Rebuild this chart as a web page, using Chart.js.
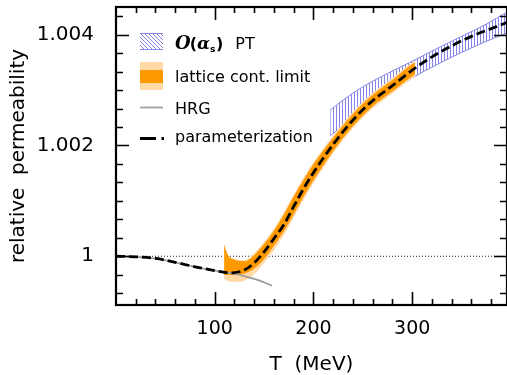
<!DOCTYPE html>
<html lang="en">
<head>
    <meta charset="UTF-8">
    <title>Relative permeability</title>
    <script src="https://cdn.jsdelivr.net/npm/chart.js"></script>
    <style>
        body { margin: 0; background: #fff; }
        #chartBox { width: 507px; height: 375px; }
    </style>
</head>
<body>
    <div id="chartBox">
        <canvas id="permChart" width="507" height="375"></canvas>
    </div>

    <script>
        // values (T in MeV)
        const tempParam = [0, 20, 40, 60, 80, 100, 110, 118, 125, 130, 140, 150, 160, 170, 180, 190, 200, 220, 240, 260, 280, 300, 320, 340, 360, 380, 396];
        const muParam = [1.0, 0.99999, 0.99996, 0.99989, 0.99981, 0.99974, 0.99971, 0.99970, 0.99972, 0.99975, 0.99988, 1.00008, 1.00032, 1.00057, 1.00090, 1.00122, 1.00151, 1.00202, 1.00246, 1.00281, 1.00308, 1.00336, 1.00360, 1.00380, 1.00397, 1.00411, 1.00422];

        const tempHrg = [0, 20, 40, 60, 80, 100, 110, 118, 130, 140, 150, 158];
        const muHrg = [1.0, 0.99999, 0.99996, 0.99989, 0.99981, 0.99974, 0.99971, 0.99969, 0.99964, 0.99959, 0.99953, 0.99947];

        const tempLat = [109.5, 113, 120, 130, 140, 150, 160, 170, 180, 190, 200, 220, 240, 260, 280, 300, 303];
        const latDarkHi = [1.00021, 1.00003, 0.99994, 0.99991, 1.00002, 1.00022, 1.00046, 1.00075, 1.00108, 1.00138, 1.00166, 1.00214, 1.00257, 1.00291, 1.00318, 1.00347, 1.00350];
        const latDarkLo = [0.99966, 0.99966, 0.99966, 0.99969, 0.99978, 0.99995, 1.00019, 1.00045, 1.00076, 1.00108, 1.00137, 1.00190, 1.00235, 1.00271, 1.00298, 1.00325, 1.00328];
        const latLightHi = [1.00021, 1.00004, 0.99995, 0.99993, 1.00005, 1.00026, 1.00050, 1.00080, 1.00112, 1.00142, 1.00170, 1.00218, 1.00261, 1.00295, 1.00322, 1.00350, 1.00353];
        const latLightLo = [0.99960, 0.99955, 0.99954, 0.99956, 0.99968, 0.99988, 1.00011, 1.00038, 1.00070, 1.00102, 1.00132, 1.00186, 1.00231, 1.00267, 1.00294, 1.00321, 1.00324];

        const tempPT = [217, 230, 250, 275, 300, 325, 350, 375, 396];
        const ptHi = [1.00264, 1.00282, 1.00306, 1.00330, 1.00352, 1.00375, 1.00397, 1.00419, 1.00441];
        const ptLo = [1.00218, 1.00235, 1.00262, 1.00293, 1.00322, 1.00346, 1.00368, 1.00388, 1.00403];

        const xTickValues = [100, 200, 300];
        const yTickValues = [1, 1.002, 1.004];
        const legendLabels = ['PT', 'lattice cont. limit', 'HRG', 'parameterization'];

        const hatchColor = '#8484ea';
        const orangeDark = '#ff9900';
        const orangeLight = '#ffd9a6';

        function pts(xs, ys) {
            return xs.map((x, i) => ({x: x, y: ys[i]}));
        }

        // vertical hatch for the PT band
        const hatchCanvas = document.createElement('canvas');
        hatchCanvas.width = 3;
        hatchCanvas.height = 4;
        const hctx = hatchCanvas.getContext('2d');
        hctx.fillStyle = hatchColor;
        hctx.fillRect(0, 0, 1, 4);
        const hatchPattern = hctx.createPattern(hatchCanvas, 'repeat');

        // frame with inward ticks on all four sides
        const framePlugin = {
            id: 'frame',
            afterDraw(chart) {
                const ctx = chart.ctx;
                const a = chart.chartArea;
                const xs = chart.scales.x, ys = chart.scales.y;
                ctx.save();
                ctx.strokeStyle = '#000';
                ctx.lineWidth = 1.6;
                for (let t = 20; t < xs.max; t += 20) {
                    const px = Math.round(xs.getPixelForValue(t)) + 0.5;
                    const len = t % 100 === 0 ? 13 : 6;
                    ctx.beginPath();
                    ctx.moveTo(px, a.bottom); ctx.lineTo(px, a.bottom - len);
                    ctx.moveTo(px, a.top); ctx.lineTo(px, a.top + len);
                    ctx.stroke();
                }
                const step = 0.002 / 6;
                for (let k = -3; k <= 14; k++) {
                    const v = 1 + k * step;
                    if (v < ys.min || v > ys.max) continue;
                    const py = Math.round(ys.getPixelForValue(v)) + 0.5;
                    const len = k % 6 === 0 ? 13 : 7;
                    ctx.beginPath();
                    ctx.moveTo(a.left, py); ctx.lineTo(a.left + len, py);
                    ctx.moveTo(a.right, py); ctx.lineTo(a.right - len, py);
                    ctx.stroke();
                }
                ctx.lineWidth = 2.2;
                ctx.strokeRect(a.left, a.top, a.right - a.left, a.bottom - a.top);
                ctx.restore();
            }
        };

        // legend drawn inside the plot, top left
        const legendPlugin = {
            id: 'insideLegend',
            afterDraw(chart) {
                const ctx = chart.ctx;
                const bx = 140, bw = 23, tx = 175;
                ctx.save();

                // hatched PT box
                ctx.save();
                ctx.beginPath();
                ctx.rect(bx, 33, bw, 17);
                ctx.clip();
                ctx.strokeStyle = hatchColor;
                ctx.lineWidth = 1;
                for (let d = -20; d < bw + 20; d += 4) {
                    ctx.beginPath();
                    ctx.moveTo(bx + d, 33);
                    ctx.lineTo(bx + d + 17, 50);
                    ctx.stroke();
                }
                ctx.restore();
                ctx.strokeStyle = hatchColor;
                ctx.lineWidth = 1;
                ctx.beginPath();
                ctx.moveTo(bx, 33.5); ctx.lineTo(bx + bw, 33.5);
                ctx.moveTo(bx, 49.5); ctx.lineTo(bx + bw, 49.5);
                ctx.stroke();

                ctx.fillStyle = '#000';
                ctx.textBaseline = 'alphabetic';
                let x = tx;
                ctx.font = 'italic bold 18px "DejaVu Serif"';
                ctx.fillText('O', x, 49);
                x += ctx.measureText('O').width - 1;
                ctx.font = 'bold 16px "DejaVu Sans"';
                ctx.fillText('(', x, 49);
                x += ctx.measureText('(').width;
                ctx.font = 'italic bold 17px "DejaVu Serif"';
                ctx.fillText('\u03b1', x, 49);
                x += ctx.measureText('\u03b1').width;
                ctx.font = 'bold 9px "DejaVu Sans"';
                ctx.fillText('s', x, 52);
                x += ctx.measureText('s').width + 0.5;
                ctx.font = 'bold 16px "DejaVu Sans"';
                ctx.fillText(')', x, 49);
                x += ctx.measureText(')').width + 12;
                ctx.font = '16px "DejaVu Sans"';
                ctx.fillText(legendLabels[0], x, 49);

                // lattice box
                ctx.fillStyle = orangeLight;
                ctx.fillRect(bx, 62, bw, 28);
                ctx.fillStyle = orangeDark;
                ctx.fillRect(bx, 70, bw, 13);
                ctx.fillStyle = '#000';
                ctx.fillText(legendLabels[1], tx, 81.5);

                // HRG
                ctx.strokeStyle = '#a0a0a0';
                ctx.lineWidth = 1.8;
                ctx.beginPath();
                ctx.moveTo(bx, 107.5); ctx.lineTo(bx + bw, 107.5);
                ctx.stroke();
                ctx.fillText(legendLabels[2], tx, 113.5);

                // parameterization
                ctx.strokeStyle = '#000';
                ctx.lineWidth = 2.8;
                ctx.beginPath();
                ctx.moveTo(bx, 138.5); ctx.lineTo(bx + 16, 138.5);
                ctx.moveTo(bx + 21.5, 138.5); ctx.lineTo(bx + 24, 138.5);
                ctx.stroke();
                ctx.fillText(legendLabels[3], tx, 142);
                ctx.restore();
            }
        };

        Chart.defaults.font.family = '"DejaVu Sans"';
        Chart.defaults.color = '#000';

        const ctx = document.getElementById('permChart').getContext('2d');
        const permChart = new Chart(ctx, {
            type: 'line',
            data: {
                datasets: [
                    { // 0: unity reference
                        data: pts([0, 396], [1, 1]),
                        borderColor: '#222', borderWidth: 1.1, borderDash: [1, 2],
                        fill: false, order: 6
                    },
                    { // 1: PT lower edge
                        data: pts(tempPT, ptLo),
                        borderColor: hatchColor, borderWidth: 1,
                        fill: false, order: 5
                    },
                    { // 2: PT upper edge, filled down to 1
                        data: pts(tempPT, ptHi),
                        borderColor: hatchColor, borderWidth: 1,
                        backgroundColor: hatchPattern,
                        fill: 1, order: 5
                    },
                    { // 3: lattice light lower
                        data: pts(tempLat, latLightLo),
                        borderColor: 'transparent', fill: false, order: 4
                    },
                    { // 4: lattice light upper
                        data: pts(tempLat, latLightHi),
                        borderColor: 'transparent', backgroundColor: orangeLight,
                        fill: 3, order: 4
                    },
                    { // 5: lattice dark lower
                        data: pts(tempLat, latDarkLo),
                        borderColor: 'transparent', fill: false, order: 3
                    },
                    { // 6: lattice dark upper
                        data: pts(tempLat, latDarkHi),
                        borderColor: 'transparent', backgroundColor: orangeDark,
                        fill: 5, order: 3
                    },
                    { // 7: HRG
                        data: pts(tempHrg, muHrg),
                        borderColor: '#9c9c9c', borderWidth: 1.8,
                        fill: false, order: 2
                    },
                    { // 8: parameterization
                        data: pts(tempParam, muParam),
                        borderColor: '#000', borderWidth: 2.8, borderDash: [9, 4],
                        fill: false, order: 1
                    }
                ]
            },
            options: {
                responsive: false,
                animation: false,
                devicePixelRatio: 1,
                layout: { padding: { top: 7, right: 0, left: 0, bottom: 0 } },
                elements: {
                    point: { radius: 0, hoverRadius: 0 },
                    line: { cubicInterpolationMode: 'monotone' }
                },
                plugins: {
                    legend: { display: false },
                    tooltip: { enabled: false }
                },
                scales: {
                    x: {
                        type: 'linear',
                        min: 0,
                        max: 396,
                        afterBuildTicks(scale) { scale.ticks = xTickValues.map(v => ({value: v})); },
                        afterFit(scale) {
                            scale.height = 70;
                            scale.paddingLeft = 0;
                            scale.paddingRight = 0;
                        },
                        grid: { display: false },
                        border: { display: false },
                        ticks: {
                            padding: 5,
                            font: { size: 19, lineHeight: 1.2 },
                            callback: v => String(v)
                        },
                        title: {
                            display: true,
                            text: 'T  (MeV)',
                            font: { size: 20, lineHeight: 1 },
                            padding: { top: 0, bottom: 0 }
                        }
                    },
                    y: {
                        min: 0.99912,
                        max: 1.0045,
                        afterBuildTicks(scale) { scale.ticks = yTickValues.map(v => ({value: v})); },
                        afterFit(scale) {
                            scale.width = 116;
                            scale.paddingTop = 0;
                            scale.paddingBottom = 0;
                        },
                        grid: { display: false },
                        border: { display: false },
                        ticks: {
                            padding: 14,
                            font: { size: 20, lineHeight: 1.2 },
                            callback: v => (Math.abs(v - 1) < 1e-9 ? '1' : v.toFixed(3))
                        },
                        title: {
                            display: true,
                            text: 'relative  permeability',
                            font: { size: 20, lineHeight: 1 },
                            padding: { top: 8.5, bottom: 0 }
                        }
                    }
                }
            },
            plugins: [framePlugin, legendPlugin]
        });
    </script>
</body>
</html>
